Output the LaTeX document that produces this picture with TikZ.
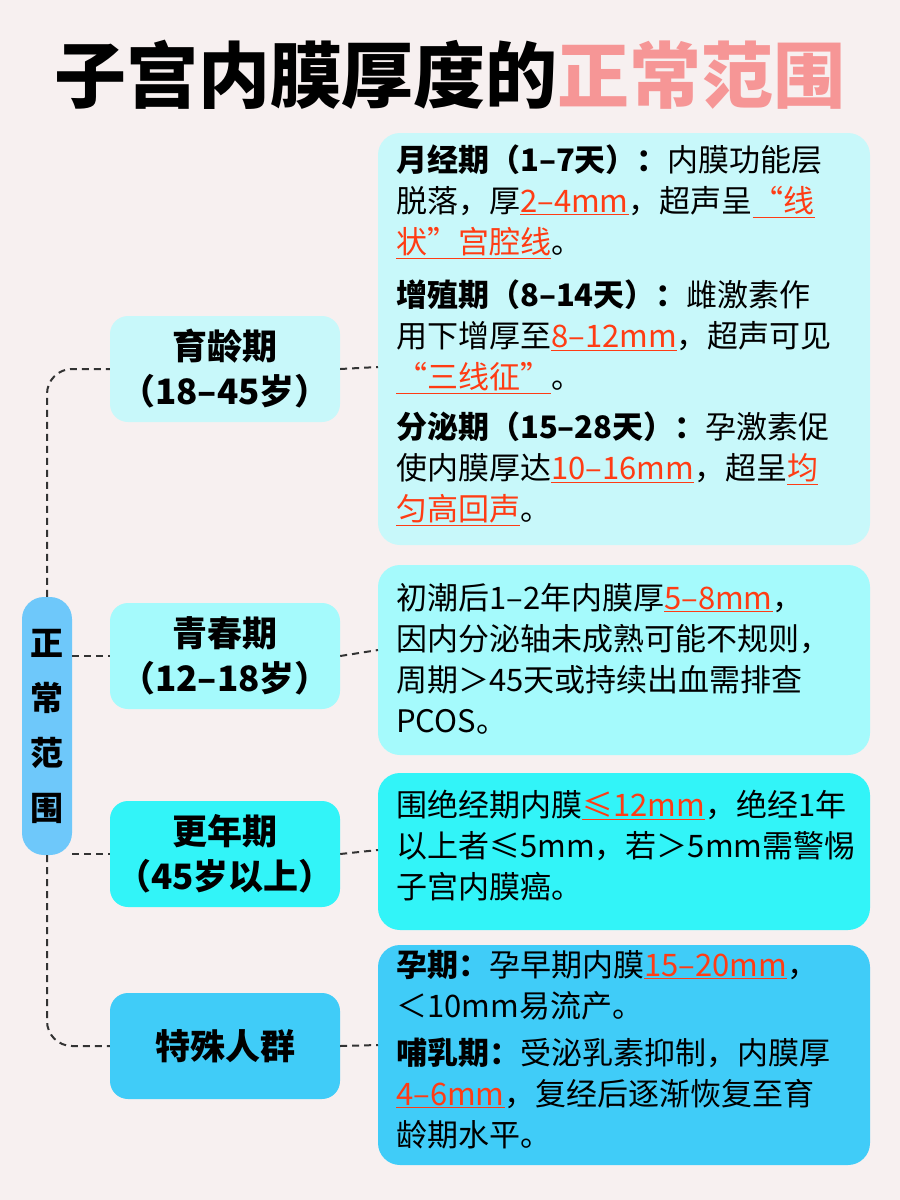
\documentclass[tikz,border=0pt]{standalone}
\usepackage{fontspec}
\setmainfont{Noto Sans CJK SC}
\usepackage{xcolor}
\usetikzlibrary{positioning}
\definecolor{bgpink}{RGB}{247,240,240}
\definecolor{titlepink}{RGB}{246,150,150}
\definecolor{markred}{RGB}{255,60,20}
\definecolor{pillblue}{RGB}{110,200,250}
\definecolor{tint1}{RGB}{200,248,250}
\definecolor{tint2}{RGB}{165,250,252}
\definecolor{tint3}{RGB}{50,244,248}
\definecolor{tint4}{RGB}{64,204,248}
\newcommand{\hl}[1]{\textcolor{markred}{\underline{#1}}}
\tikzset{
    stagebox/.style = {rounded corners=18pt, minimum width=230pt, minimum height=106pt,
        align=center, font=\fontsize{35}{45}\selectfont\bfseries, inner sep=0pt},
    detailbox/.style = {rounded corners=22pt},
    detailtext/.style = {anchor=north west, align=left, inner sep=0pt,
        font=\fontsize{31}{41}\selectfont},
    link/.style = {dash pattern=on 7pt off 5pt, line width=2pt, black!80},
}
\begin{document}
\begin{tikzpicture}[x=1pt,y=-1pt]
\fill[bgpink] (0,0) rectangle (900,1200);
\useasboundingbox (0,0) rectangle (900,1200);

% title
\node[font=\fontsize{72}{80}\selectfont\bfseries] (title) at (450,75)
    {子宫内膜厚度的\textcolor{titlepink}{正常范围}};

% left pill
\node[fill=pillblue, rounded corners=22pt, minimum width=50pt, minimum height=258pt,
      align=center, inner sep=0pt, font=\fontsize{33}{55}\selectfont\bfseries]
      (range) at (47,726) {正\\常\\范\\围};

% detail boxes
\fill[tint1, detailbox] (378,133) rectangle (870,545);
\fill[tint2, detailbox] (378,565) rectangle (870,755);
\fill[tint3, detailbox] (378,773) rectangle (870,930);
\fill[tint4, detailbox] (378,945) rectangle (870,1165);
\coordinate (d1) at (378,367);
\coordinate (d2) at (378,650);
\coordinate (d3) at (378,850);
\coordinate (d4) at (378,1045);

% stage boxes
\node[stagebox, fill=tint1] (yuling) at (225,369) {育龄期\\（18–45岁）};
\node[stagebox, fill=tint2] (qingchun) at (225,656) {青春期\\（12–18岁）};
\node[stagebox, fill=tint3] (gengnian) at (225,854) {更年期\\（45岁以上）};
\node[stagebox, fill=tint4] (teshu) at (225,1046) {特殊人群};

% connectors
\draw[link, rounded corners=25pt] (range.north) |- (yuling.west);
\draw[link, rounded corners=25pt] (range.south) |- (teshu.west);
\draw[link] (range.east |- qingchun.west) -- (qingchun.west);
\draw[link] (range.east |- gengnian.west) -- (gengnian.west);
\draw[link] (yuling.east) -- (d1);
\draw[link] (qingchun.east) -- (d2);
\draw[link] (gengnian.east) -- (d3);
\draw[link] (teshu.east) -- (d4);

% texts
\node[detailtext] (t1a) at (396,145) {\textbf{月经期（1–7天）：}内膜功能层\\脱落，厚\hl{2–4mm}，超声呈\hl{“线}\\\hl{状”宫腔线}。};
\node[detailtext] (t1b) at (396,280) {\textbf{增殖期（8–14天）：}雌激素作\\用下增厚至\hl{8–12mm}，超声可见\\\hl{“三线征”}。};
\node[detailtext] (t1c) at (396,412) {\textbf{分泌期（15–28天）：}孕激素促\\使内膜厚达\hl{10–16mm}，超呈\hl{均}\\\hl{匀高回声}。};
\node[detailtext] (t2) at (396,583) {初潮后1–2年内膜厚\hl{5–8mm}，\\因内分泌轴未成熟可能不规则，\\周期＞45天或持续出血需排查\\PCOS。};
\node[detailtext] (t3) at (396,790) {围绝经期内膜\hl{≤12mm}，绝经1年\\以上者≤5mm，若＞5mm需警惕\\子宫内膜癌。};
\node[detailtext] (t4a) at (396,950) {\textbf{孕期：}孕早期内膜\hl{15–20mm}，\\＜10mm易流产。};
\node[detailtext] (t4b) at (396,1038) {\textbf{哺乳期：}受泌乳素抑制，内膜厚\\\hl{4–6mm}，复经后逐渐恢复至育\\龄期水平。};
\end{tikzpicture}
\end{document}
